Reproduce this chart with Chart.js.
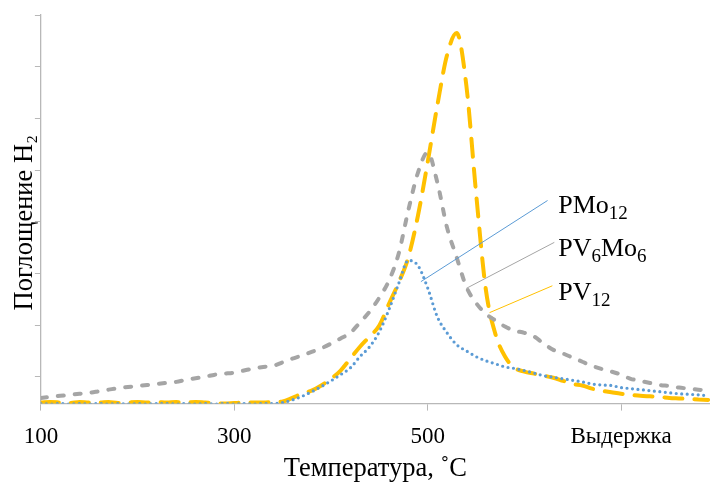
<!DOCTYPE html>
<html>
<head>
<meta charset="utf-8">
<script src="https://cdn.jsdelivr.net/npm/chart.js@4"></script>
<style>
  html, body { margin: 0; padding: 0; background: #fff; }
  #wrap { width: 710px; height: 482px; }
</style>
</head>
<body>
<div id="wrap"><canvas id="tpr"></canvas></div>
<script>
// temperature grid, °C (the last part of the axis is the hold period)
const temps = [100, 110, 120, 130, 140, 150, 160, 170, 180, 190,
  200, 210, 220, 230, 240, 250, 260, 270, 280, 290,
  300, 310, 320, 330, 340, 350, 360, 370, 380, 390,
  400, 410, 420, 430, 440, 450, 460, 470, 480, 490,
  500, 510, 520, 530, 540, 550, 560, 570, 580, 590,
  600, 610, 620, 630, 640, 650, 660, 670, 680, 690,
  700, 710, 720, 730, 740, 750, 760, 770, 780, 790];

const pmo12 = [0.48, 0.47, 0.48, 0.47, 0.48, 0.47, 0.48, 0.47, 0.48, 0.47,
  0.48, 0.47, 0.48, 0.48, 0.47, 0.48, 0.47, 0.48, 0.47, 0.48,
  0.47, 0.48, 0.47, 0.48, 0.48, 0.50, 0.55, 0.62, 0.71, 0.81,
  0.92, 1.04, 1.17, 1.39, 1.58, 1.87, 2.30, 2.80, 3.25, 3.15,
  2.72, 2.16, 1.85, 1.62, 1.50, 1.39, 1.31, 1.25, 1.19, 1.16,
  1.12, 1.07, 1.02, 0.99, 0.96, 0.93, 0.90, 0.86, 0.84, 0.83,
  0.79, 0.77, 0.75, 0.73, 0.71, 0.69, 0.67, 0.66, 0.65, 0.63];

const pv6mo6 = [0.59, 0.61, 0.63, 0.65, 0.67, 0.69, 0.72, 0.75, 0.78, 0.80,
  0.82, 0.84, 0.86, 0.88, 0.90, 0.94, 0.97, 1.00, 1.04, 1.06,
  1.08, 1.12, 1.16, 1.19, 1.21, 1.28, 1.35, 1.41, 1.48, 1.55,
  1.64, 1.74, 1.85, 2.05, 2.26, 2.53, 2.86, 3.38, 4.22, 4.95,
  5.34, 4.76, 3.89, 3.31, 2.74, 2.43, 2.22, 2.09, 1.97, 1.89,
  1.85, 1.78, 1.64, 1.52, 1.45, 1.37, 1.29, 1.21, 1.15, 1.10,
  1.04, 0.96, 0.92, 0.88, 0.84, 0.82, 0.79, 0.77, 0.75, 0.73];

const pv12 = [0.50, 0.51, 0.50, 0.49, 0.51, 0.50, 0.50, 0.51, 0.49, 0.50,
  0.51, 0.50, 0.51, 0.50, 0.51, 0.50, 0.51, 0.50, 0.49, 0.48,
  0.49, 0.50, 0.50, 0.50, 0.51, 0.52, 0.59, 0.67, 0.73, 0.83,
  0.96, 1.12, 1.35, 1.58, 1.78, 1.99, 2.41, 2.82, 3.31, 4.12,
  5.15, 6.25, 7.22, 7.65, 6.64, 4.57, 2.71, 1.83, 1.39, 1.17,
  1.10, 1.06, 1.02, 0.98, 0.92, 0.86, 0.83, 0.77, 0.73, 0.70,
  0.67, 0.65, 0.63, 0.62, 0.61, 0.59, 0.58, 0.57, 0.56, 0.55];

const xTicks = [100, 300, 500, 700];
const xTickNames = ['100', '300', '500', 'Выдержка'];
const yTicks = [1, 2, 3, 4, 5, 6, 7, 8];

// callout labels: name pieces [text, isSubscript], anchor on curve, line end, text spot
const callouts = [
  { parts: [['PMo', false], ['12', true]], color: '#5b9bd5', anchor: [493, 2.84], end: [624, 4.41], text: [635, 4.16] },
  { parts: [['PV', false], ['6', true], ['Mo', false], ['6', true]], color: '#a5a5a5', anchor: [540, 2.71], end: [631, 3.60], text: [635, 3.33] },
  { parts: [['PV', false], ['12', true]], color: '#ffc000', anchor: [564, 2.24], end: [629, 2.76], text: [635, 2.48] }
];

const serif = "'Liberation Serif', 'Times New Roman', serif";
const axisGrey = '#b8b8b8';

function series(values) {
  return values.map((v, i) => ({ x: temps[i], y: v }));
}

const calloutPlugin = {
  id: 'callouts',
  afterDatasetsDraw(chart) {
    const { ctx, scales } = chart;
    ctx.save();
    callouts.forEach((c) => {
      const ax = scales.x.getPixelForValue(c.anchor[0]);
      const ay = scales.y.getPixelForValue(c.anchor[1]);
      const ex = scales.x.getPixelForValue(c.end[0]);
      const ey = scales.y.getPixelForValue(c.end[1]);
      ctx.strokeStyle = c.color;
      ctx.lineWidth = 1;
      ctx.beginPath();
      ctx.moveTo(ax, ay);
      ctx.lineTo(ex, ey);
      ctx.stroke();
      let tx = scales.x.getPixelForValue(c.text[0]);
      const ty = scales.y.getPixelForValue(c.text[1]);
      ctx.fillStyle = '#000';
      ctx.textBaseline = 'alphabetic';
      ctx.textAlign = 'left';
      c.parts.forEach(([t, sub]) => {
        ctx.font = sub ? `19px ${serif}` : `26px ${serif}`;
        ctx.fillText(t, tx, sub ? ty + 6 : ty);
        tx += ctx.measureText(t).width;
      });
    });
    ctx.restore();
  }
};

new Chart(document.getElementById('tpr'), {
  type: 'line',
  data: {
    datasets: [
      { label: 'PMo12', data: series(pmo12), borderColor: '#5b9bd5', borderWidth: 3.2, borderDash: [0, 5.5], borderCapStyle: 'round' },
      { label: 'PV6Mo6', data: series(pv6mo6), borderColor: '#a5a5a5', borderWidth: 4, borderDash: [6, 11], borderCapStyle: 'round' },
      { label: 'PV12', data: series(pv12), borderColor: '#ffc000', borderWidth: 4, borderDash: [18, 12], borderCapStyle: 'round' }
    ]
  },
  options: {
    responsive: true,
    maintainAspectRatio: false,
    animation: false,
    layout: { padding: { left: 0.5, right: 0, top: 15, bottom: 0 } },
    elements: { point: { radius: 0 }, line: { cubicInterpolationMode: 'monotone', fill: false } },
    plugins: { legend: { display: false }, tooltip: { enabled: false } },
    scales: {
      x: {
        type: 'linear',
        min: 100,
        max: 792,
        afterBuildTicks: (scale) => { scale.ticks = xTicks.map((v) => ({ value: v })); },
        ticks: {
          font: { family: serif, size: 23, lineHeight: 1.2 },
          color: '#000',
          padding: 13,
          maxRotation: 0,
          autoSkip: false,
          callback: (value) => xTickNames[xTicks.indexOf(value)]
        },
        grid: { drawOnChartArea: false, drawTicks: true, tickLength: 7, color: axisGrey },
        border: { color: axisGrey, width: 1.3 },
        title: { display: true, text: 'Температура, ˚С', font: { family: serif, size: 26.5, lineHeight: 1.2 }, color: '#000', padding: { top: -11, bottom: -3 } }
      },
      y: {
        min: 0.48,
        max: 8,
        afterBuildTicks: (scale) => { scale.ticks = yTicks.map((v) => ({ value: v })); },
        ticks: { display: false },
        grid: { drawOnChartArea: false, drawTicks: true, tickLength: 6, color: axisGrey },
        border: { color: axisGrey, width: 1.3 },
        title: { display: true, text: 'Поглощение H₂\u00a0\u00a0\u00a0\u00a0', font: { family: serif, size: 26.5, lineHeight: 0.75 }, color: '#000', padding: { top: 14.5, bottom: 0 } }
      }
    }
  },
  plugins: [calloutPlugin]
});
</script>
</body>
</html>
